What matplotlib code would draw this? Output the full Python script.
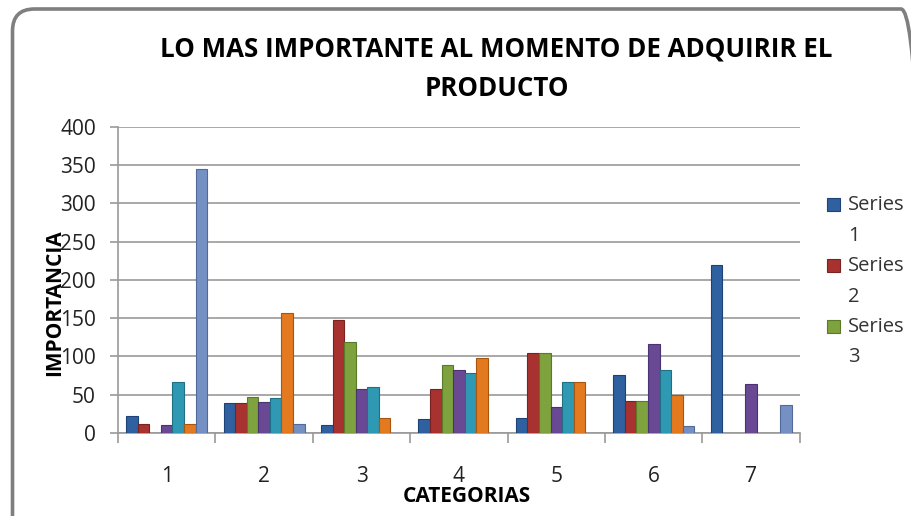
import matplotlib
matplotlib.use("Agg")
import matplotlib.pyplot as plt
from matplotlib.patches import FancyBboxPatch, Rectangle
from matplotlib.legend_handler import HandlerPatch
import numpy as np

plt.rcParams['font.family'] = ['Open Sans', 'DejaVu Sans']

# datos
categorias = ['1', '2', '3', '4', '5', '6', '7']
series_names = ['Series 1', 'Series 2', 'Series 3', 'Series 4', 'Series 5', 'Series 6', 'Series 7']
s1 = [22, 39, 11, 18, 19, 76, 220]
s2 = [12, 39, 148, 57, 104, 42, 0]
s3 = [0, 47, 119, 89, 104, 42, 0]
s4 = [10, 41, 57, 82, 34, 116, 64]
s5 = [67, 46, 60, 79, 67, 82, 0]
s6 = [12, 157, 20, 98, 66, 50, 0]
s7 = [345, 12, 0, 0, 0, 9, 37]
valores = [s1, s2, s3, s4, s5, s6, s7]

colores = ['#2f609f', '#a8322f', '#7ea23d', '#6a4994', '#2f99b4', '#e47a20', '#7591c4']
bordes = ['#1d4275', '#7a2220', '#5a7a28', '#4b3270', '#1f6f85', '#a85510', '#52699a']

fig = plt.figure(figsize=(9.11, 5.16), dpi=100)
ax = fig.add_axes([0.1295, 0.1609, 0.7485, 0.593])

# marco redondeado (en pulgadas)
marco = FancyBboxPatch((0.125, -0.3), 9.105, 5.37, boxstyle="round,pad=0,rounding_size=0.22",
                       transform=fig.dpi_scale_trans, facecolor='none', edgecolor='#7f7f7f',
                       linewidth=2.6)
fig.patches.append(marco)

x = np.arange(len(categorias))
w = 0.119
for i, vals in enumerate(valores):
    vals = np.array(vals)
    lw = np.where(vals > 0, 0.8, 0)
    ax.bar(x + (i - 3) * w, vals, width=w, color=colores[i], edgecolor=bordes[i],
           linewidth=lw, label=series_names[i], zorder=3)

ax.set_xlim(-0.5, 6.5)
ax.set_ylim(0, 400)
ax.set_yticks(np.arange(0, 401, 50))
ax.yaxis.grid(True, color='#9a9a9a', linewidth=1.2, zorder=0)
ax.set_xticks(x)
ax.set_xticklabels(categorias)
ax.set_xticks(np.arange(-0.5, 7, 1), minor=True)
ax.tick_params(axis='x', which='major', length=0, pad=24, labelsize=15, labelcolor='#222222')
ax.tick_params(axis='x', which='minor', length=7, width=1.2, color='#9a9a9a')
ax.tick_params(axis='y', length=6, width=1.2, color='#9a9a9a', pad=10, labelsize=15,
               labelcolor='#222222')

for s in ['top', 'right']:
    ax.spines[s].set_visible(False)
for s in ['left', 'bottom']:
    ax.spines[s].set_color('#9a9a9a')
    ax.spines[s].set_linewidth(1.2)

ax.set_ylabel('IMPORTANCIA', fontsize=15, fontweight='bold')
ax.yaxis.set_label_coords(-0.078, 0.425)
ax.set_xlabel('CATEGORIAS', fontsize=15, fontweight='bold')
ax.xaxis.set_label_coords(0.512, -0.173)

fig.text(0.545, 0.905, 'LO MAS IMPORTANTE AL MOMENTO DE ADQUIRIR EL', ha='center', va='center',
         fontsize=18.6, fontweight='bold')
fig.text(0.545, 0.829, 'PRODUCTO', ha='center', va='center', fontsize=18.6, fontweight='bold')


def cuadro_arriba(legend, orig_handle, xdescent, ydescent, width, height, fontsize):
    # el cuadrito va a la altura de la primera linea ("Series")
    return Rectangle((-xdescent, -ydescent + 0.8 * fontsize), width, height)


# leyenda: solo se ven las tres primeras series
proxies = [Rectangle((0, 0), 1, 1, facecolor=colores[i], edgecolor=bordes[i], linewidth=0.8)
           for i in range(3)]
leg = fig.legend(proxies, ['Series\n1', 'Series\n2', 'Series\n3'], loc='upper left',
                 bbox_to_anchor=(0.908, 0.622), frameon=False, fontsize=14.5,
                 handlelength=0.65, handleheight=0.65, handletextpad=0.4, labelspacing=0.52,
                 borderaxespad=0, borderpad=0,
                 handler_map={Rectangle: HandlerPatch(patch_func=cuadro_arriba)})
for t in leg.get_texts():
    t.set_linespacing(1.7)
    t.set_color('#333333')
for hp in leg._legend_handle_box.get_children():
    hp.align = 'top'

fig.savefig('out.png', dpi=100)
